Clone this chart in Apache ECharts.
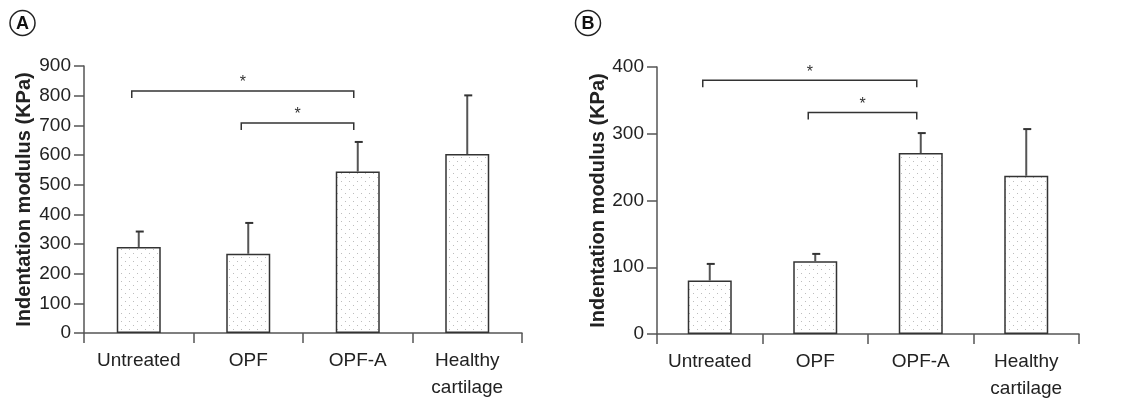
<!DOCTYPE html>
<html>
<head>
<meta charset="utf-8">
<script src="https://cdn.jsdelivr.net/npm/echarts@6/dist/echarts.min.js"></script>
<style>
html, body { margin: 0; padding: 0; background: #fff; }
#main { width: 1125px; height: 399px; }
</style>
</head>
<body>
<div id="main"></div>
<script>
// data
var categories = ['Untreated', 'OPF', 'OPF-A', 'Healthy\ncartilage'];
var meanA = [290, 267, 544, 603];
var upperA = [342, 371, 644, 801];   // mean + SD
var meanB = [80, 109, 271, 237];
var upperB = [105, 120, 301, 307];
// significance brackets: [from, to, level]
var sigA = [[0, 2, 816], [1, 2, 708]];
var sigB = [[0, 2, 380], [1, 2, 332]];

var FONT = 'Liberation Sans, Arial, sans-serif';

// dotted fill like the original stippling
var pat = document.createElement('canvas');
pat.width = 8; pat.height = 8;
var pc = pat.getContext('2d');
pc.fillStyle = '#fff';
pc.fillRect(0, 0, 8, 8);
pc.fillStyle = '#bdbdbd';
pc.fillRect(1, 1, 1, 1);
pc.fillRect(5, 5, 1, 1);

function errData(mean, upper) {
    return mean.map(function (m, i) { return [i, m, upper[i]]; });
}

function renderErr(params, api) {
    var base = api.coord([api.value(0), api.value(1)]);
    var top = api.coord([api.value(0), api.value(2)]);
    return {
        type: 'group',
        children: [
            { type: 'line', shape: { x1: base[0], y1: base[1], x2: top[0], y2: top[1] }, style: { stroke: '#555', lineWidth: 2 } },
            { type: 'line', shape: { x1: top[0] - 3, y1: top[1], x2: top[0] + 5, y2: top[1] }, style: { stroke: '#333', lineWidth: 2 } }
        ]
    };
}

function renderSig(params, api) {
    var a = api.coord([api.value(0), api.value(2)]);
    var b = api.coord([api.value(1), api.value(2)]);
    var x1 = a[0] - 7, x2 = b[0] - 4, y = a[1];
    return {
        type: 'group',
        children: [
            { type: 'polyline', shape: { points: [[x1, y + 7], [x1, y], [x2, y], [x2, y + 7]] }, style: { stroke: '#333', lineWidth: 1.5, fill: null } },
            { type: 'text', style: { text: '*', x: (x1 + x2) / 2, y: y - 8, align: 'center', verticalAlign: 'middle', font: '16px ' + FONT, fill: '#333' } }
        ]
    };
}

function xAxisCfg(gi) {
    return {
        type: 'category',
        gridIndex: gi,
        data: categories,
        axisLine: { lineStyle: { color: '#555', width: 1.5 } },
        axisTick: { show: true, alignWithLabel: false, length: 10, lineStyle: { color: '#555', width: 1.5 } },
        axisLabel: { interval: 0, fontSize: 19, lineHeight: 27, margin: 14, color: '#222', fontFamily: FONT }
    };
}

function yAxisCfg(gi, max, gap) {
    return {
        type: 'value',
        gridIndex: gi,
        min: 0,
        max: max,
        interval: 100,
        name: 'Indentation modulus (KPa)',
        nameLocation: 'middle',
        nameGap: gap,
        nameTextStyle: { fontSize: 20, fontWeight: 'bold', color: '#222', fontFamily: FONT },
        axisLine: { show: true, lineStyle: { color: '#555', width: 1.5 } },
        axisTick: { show: true, length: 10, lineStyle: { color: '#555', width: 1.5 } },
        axisLabel: { fontSize: 19, margin: 13, color: '#222', fontFamily: FONT },
        splitLine: { show: false }
    };
}

function barSeries(gi, data) {
    return {
        type: 'bar',
        xAxisIndex: gi,
        yAxisIndex: gi,
        data: data,
        barWidth: 44,
        itemStyle: { color: { image: pat, repeat: 'repeat' }, borderColor: '#333', borderWidth: 1.5 },
        silent: true
    };
}

function customSeries(gi, data, fn) {
    return {
        type: 'custom',
        xAxisIndex: gi,
        yAxisIndex: gi,
        data: data,
        renderItem: fn,
        silent: true,
        clip: false,
        z: 5
    };
}

function badge(letter, cx, cy) {
    return [
        { type: 'circle', shape: { cx: cx, cy: cy, r: 12.5 }, style: { stroke: '#222', lineWidth: 1.5, fill: 'none' } },
        { type: 'text', x: cx, y: cy + 1, style: { text: letter, align: 'center', verticalAlign: 'middle', font: 'bold 18px ' + FONT, fill: '#111' } }
    ];
}

var chart = echarts.init(document.getElementById('main'));
chart.setOption({
    animation: false,
    backgroundColor: '#fff',
    grid: [
        { left: 84, top: 66, width: 438, height: 267, outerBoundsMode: 'none' },
        { left: 657, top: 67, width: 422, height: 267, outerBoundsMode: 'none' }
    ],
    xAxis: [xAxisCfg(0), xAxisCfg(1)],
    yAxis: [yAxisCfg(0, 900, 50), yAxisCfg(1, 400, 48)],
    graphic: badge('A', 22.5, 23).concat(badge('B', 588, 23)),
    series: [
        barSeries(0, meanA),
        barSeries(1, meanB),
        customSeries(0, errData(meanA, upperA), renderErr),
        customSeries(1, errData(meanB, upperB), renderErr),
        customSeries(0, sigA, renderSig),
        customSeries(1, sigB, renderSig)
    ]
});
</script>
</body>
</html>
